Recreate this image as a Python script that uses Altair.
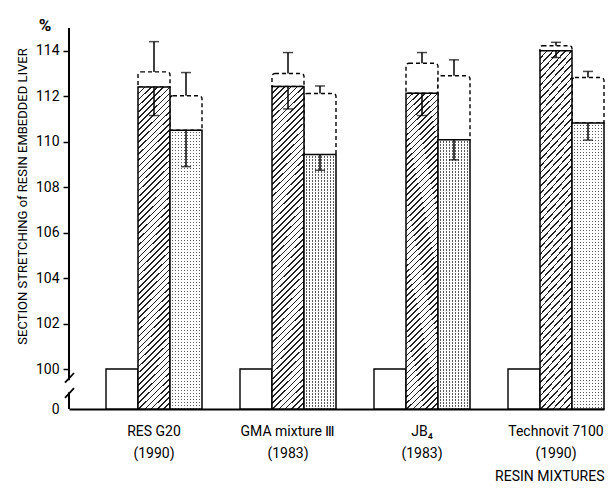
import altair as alt
import pandas as pd

# ---------------- data ----------------
groups = ["RES G20|(1990)", "GMA mixture Ⅲ|(1983)", "JB₄|(1983)", "Technovit 7100|(1990)"]
series = ["control", "hatched", "dotted"]

control = [100, 100, 100, 100]
hatched = [112.4, 112.43, 112.13, 114.0]
hatched_lo = [111.15, 111.44, 111.15, 113.7]
hatched_dash = [113.07, 113.0, 113.45, 114.22]
hatched_cap = [114.4, 113.92, 113.92, 114.37]
dotted = [110.5, 109.43, 110.08, 110.82]
dotted_lo = [108.9, 108.74, 109.2, 110.07]
dotted_dash = [112.02, 112.12, 112.9, 112.82]
dotted_cap = [113.04, 112.45, 113.6, 113.09]

y_ticks = [0, 100, 102, 104, 106, 108, 110, 112, 114]
y_domain = [0, 100, 115]

# axis line pieces around the break, and the two break strokes (in data units)
axis_seg_lo = [0, 72]
axis_seg_hi = [42, 115]
break_lo = [66, 28]
break_hi = [90, 52]

rows = []
for i, g in enumerate(groups):
    rows.append(dict(group=g, series="control", value=control[i], lo=None, dash=None, cap=None))
    rows.append(dict(group=g, series="hatched", value=hatched[i], lo=hatched_lo[i],
                     dash=hatched_dash[i], cap=hatched_cap[i]))
    rows.append(dict(group=g, series="dotted", value=dotted[i], lo=dotted_lo[i],
                     dash=dotted_dash[i], cap=dotted_cap[i]))
df = pd.DataFrame(rows)

# ---------------- styling ----------------
W, H = 535, 381
BREAK_PX = 40  # pixels between 0 and 100 on the broken axis
FONT = "Roboto"
CLEAR = "rgba(255,255,255,0)"


def hard_stops(period, frac, c_on, c_off):
    out = []
    t = 0.0
    while t < 1.0 - 1e-9:
        t1 = min(t + period * frac, 1.0)
        t2 = min(t + period, 1.0)
        out += [
            {"offset": round(t, 6), "color": c_on},
            {"offset": round(t1, 6), "color": c_on},
            {"offset": round(t1, 6), "color": c_off},
            {"offset": round(t2, 6), "color": c_off},
        ]
        t += period
    return out


# diagonal "////" hatching as a hard-stop linear gradient (bounding-box units)
W0, H0 = 32.0, 330.0
k = (W0 + H0) / (W0 ** 2 + H0 ** 2)
diag = (W0 + H0) / 2 ** 0.5
hatch_fill = {"gradient": "linear", "x1": 0, "y1": 0, "x2": W0 * k, "y2": H0 * k,
              "stops": hard_stops(4.4 / diag, 0.26, "#222222", "#ffffff")}

# stipple: grey base, masked by white horizontal and vertical stripes
DW, DP, DFRAC = 32.0, 3.0, 0.52
v_stripes = {"gradient": "linear", "x1": 0, "y1": 0, "x2": 1, "y2": 0,
             "stops": hard_stops(DP / DW, DFRAC, "#ffffff", CLEAR)}


def h_stripes(px_height):
    return {"gradient": "linear", "x1": 0, "y1": 0, "x2": 0, "y2": 1,
            "stops": hard_stops(DP / px_height, DFRAC, "#ffffff", CLEAR)}


x_scale = alt.Scale(domain=groups, paddingInner=0.2836, paddingOuter=0.137, align=1, round=True)
xo_scale = alt.Scale(domain=series, paddingInner=0, paddingOuter=0)
y_scale = alt.Scale(domain=y_domain, range=[H, H - BREAK_PX, 0])
px_per_unit = (H - BREAK_PX) / (y_domain[2] - y_domain[1])

x_axis = alt.Axis(
    title="RESIN MIXTURES", labelExpr="split(datum.label, '|')",
    labelFont=FONT, labelFontSize=14, labelLineHeight=22, labelPadding=15,
    labelAngle=0, labelColor="black", ticks=False, tickSize=0,
    domainWidth=2, domainColor="black",
    titleX=W, titleY=67, titleAlign="right", titleBaseline="middle",
    titleAngle=0, titleFont=FONT, titleFontSize=14, titleFontWeight="normal",
    titleColor="black",
)
y_axis = alt.Axis(
    values=y_ticks, title="SECTION STRETCHING of RESIN EMBEDDED LIVER",
    titleFont=FONT, titleFontSize=13, titleFontWeight="normal", titleColor="black",
    titleX=-47, titleY=168, titleAlign="center", titleBaseline="middle", titleAngle=270,
    labelFont=FONT, labelFontSize=14, labelColor="black", labelPadding=4,
    tickSize=6, tickWidth=1.5, tickColor="black",
    tickOpacity={"condition": {"test": "datum.value == 0", "value": 0}, "value": 1},
    domain=False, grid=False,
)

X = alt.X("group:N", scale=x_scale, axis=x_axis)
XO = alt.XOffset("series:N", scale=xo_scale)


def Y(field):
    return alt.Y(field, scale=y_scale, axis=y_axis)


base = alt.Chart(df).encode(x=X, xOffset=XO)

dashed = base.transform_filter("datum.dash != null").mark_bar(
    fill="white", stroke="black", strokeWidth=1.4, strokeDash=[4, 3],
    cornerRadiusTopLeft=3, cornerRadiusTopRight=3,
).encode(y=Y("value:Q"), y2="dash:Q")

ctrl_bars = base.transform_filter("datum.series == 'control'").mark_bar(
    fill="white", stroke="black", strokeWidth=1.4
).encode(y=Y("value:Q"))

hatch_bars = base.transform_filter("datum.series == 'hatched'").mark_bar(
    fill=hatch_fill, stroke="black", strokeWidth=1.5
).encode(y=Y("value:Q"))

dots = base.transform_filter("datum.series == 'dotted'")
dot_base = dots.mark_bar(fill="#5c5c5c", strokeWidth=0).encode(y=Y("value:Q"))
dot_h_layers = []
for i, g in enumerate(groups):
    bar_px = BREAK_PX + (dotted[i] - 100) * px_per_unit
    dot_h_layers.append(
        base.transform_filter(
            (alt.datum.series == "dotted") & (alt.datum.group == g)
        ).mark_bar(fill=h_stripes(bar_px), strokeWidth=0).encode(y=Y("value:Q"))
    )
dot_v = dots.mark_bar(fill=v_stripes, stroke="black", strokeWidth=1.5).encode(y=Y("value:Q"))

err = base.transform_filter("datum.lo != null")
lo_rule = err.mark_rule(color="black", strokeWidth=1.5).encode(y=Y("value:Q"), y2="lo:Q")
lo_cap = err.mark_tick(color="black", orient="horizontal", size=10, thickness=1.5).encode(y=Y("lo:Q"))
hi_rule = err.mark_rule(color="black", strokeWidth=1.5).encode(y=Y("dash:Q"), y2="cap:Q")
hi_cap = err.mark_tick(color="black", orient="horizontal", size=10, thickness=1.5).encode(y=Y("cap:Q"))

axis_df = pd.DataFrame({"a": axis_seg_lo, "b": axis_seg_hi})
axis_line = alt.Chart(axis_df).mark_rule(color="black", strokeWidth=2).encode(
    x=alt.value(0), y=Y("a:Q"), y2="b:Q"
)
break_df = pd.DataFrame({"a": break_lo, "b": break_hi})
break_marks = alt.Chart(break_df).mark_rule(color="black", strokeWidth=1.8).encode(
    x=alt.value(-4), x2=alt.value(5), y=Y("a:Q"), y2="b:Q"
)

pct = alt.Chart(pd.DataFrame({"t": ["%"]})).mark_text(
    font=FONT, fontSize=17, fontWeight="bold", color="black", align="center", baseline="middle"
).encode(text="t:N", x=alt.value(-24), y=alt.value(-2))

chart = alt.layer(
    dashed, ctrl_bars, hatch_bars, dot_base, *dot_h_layers, dot_v,
    lo_rule, lo_cap, hi_rule, hi_cap, axis_line, break_marks, pct,
).properties(
    width=W, height=H,
    padding={"left": 7, "top": 9, "right": 0, "bottom": 0},
    background="white",
).configure_view(strokeWidth=0)

chart.save("out.html", embed_options={"renderer": "svg", "actions": False})
